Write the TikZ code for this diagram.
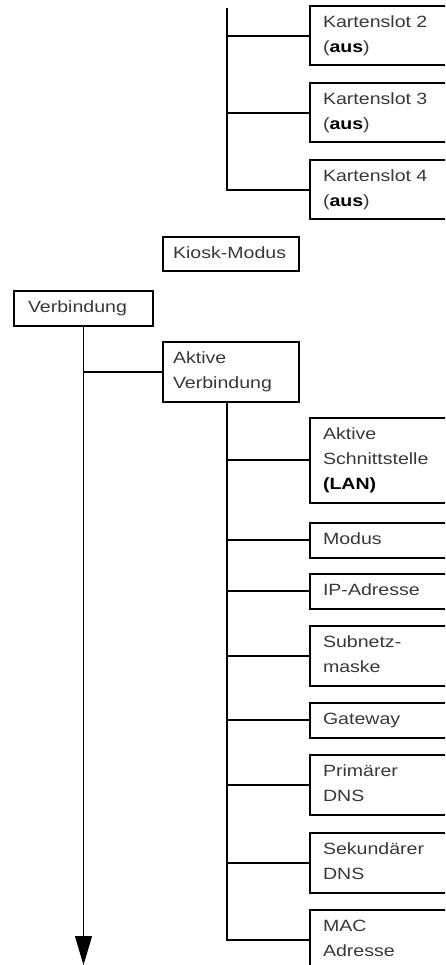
\documentclass[tikz,border=0pt]{standalone}
\usepackage{fontspec}
\setmainfont{Liberation Sans}[FakeStretch=1.2]
\usetikzlibrary{arrows.meta}
\newcommand\dstrut{\vrule width 0pt height 12pt depth 3.5pt}
\begin{document}
\begin{tikzpicture}[x=1pt,y=-1pt,
  box/.style={draw, line width=2pt, anchor=north west, align=left,
    inner xsep=12pt, inner ysep=9.5pt, text=black!78,
    font=\fontsize{16.3}{25}\selectfont},
  leaf/.style={box, inner xsep=13pt, text width=124pt},
  mid/.style={box, inner xsep=10pt, text width=116pt},
  conn/.style={line width=2pt},
  thinconn/.style={line width=1.2pt}]
\useasboundingbox (0,0) rectangle (445,965);
\clip (0,0) rectangle (445,965);
% top group
\node[leaf] (k2) at (309,5) {\dstrut Kartenslot 2\\\dstrut (\textbf{\color{black}aus})};
\node[leaf] (k3) at (309,82) {\dstrut Kartenslot 3\\\dstrut (\textbf{\color{black}aus})};
\node[leaf] (k4) at (309,159) {\dstrut Kartenslot 4\\\dstrut (\textbf{\color{black}aus})};
\coordinate (t1) at (227,8);
\draw[conn] (t1) |- (k4.west);
\draw[conn] (t1 |- k2.west) -- (k2.west);
\draw[conn] (t1 |- k3.west) -- (k3.west);
% kiosk
\node[mid] (kiosk) at (162,236) {\dstrut Kiosk-Modus};
% Verbindung
\node[box, inner xsep=14pt, text width=111pt] (verb) at (13,290) {\dstrut Verbindung};
\node[mid] (av) at (162,341) {\dstrut Aktive\\\dstrut Verbindung};
\coordinate (aend) at (0,965);
\draw[thinconn, -{Triangle[length=29pt,width=17pt]}] (verb.south) -- (verb.south |- aend);
\draw[conn] (verb.south |- av.west) -- (av.west);
% sub items
\node[leaf] (as) at (309,417) {\dstrut Aktive\\\dstrut Schnittstelle\\\dstrut \textbf{\color{black}(LAN)}};
\node[leaf] (modus) at (309,522) {\dstrut Modus};
\node[leaf] (ip) at (309,573) {\dstrut IP-Adresse};
\node[leaf] (sn) at (309,625) {\dstrut Subnetz-\\\dstrut maske};
\node[leaf] (gw) at (309,702) {\dstrut Gateway};
\node[leaf] (pd) at (309,754) {\dstrut Primärer\\\dstrut DNS};
\node[leaf] (sd) at (309,832) {\dstrut Sekundärer\\\dstrut DNS};
\node[leaf] (mac) at (309,909) {\dstrut MAC\\\dstrut Adresse};
\coordinate (t3) at (227,403);
\draw[conn] (t3) |- (mac.west);
\foreach \n in {as,modus,ip,sn,gw,pd,sd}{
  \draw[conn] (t3 |- \n.west) -- (\n.west);
}
\end{tikzpicture}
\end{document}
